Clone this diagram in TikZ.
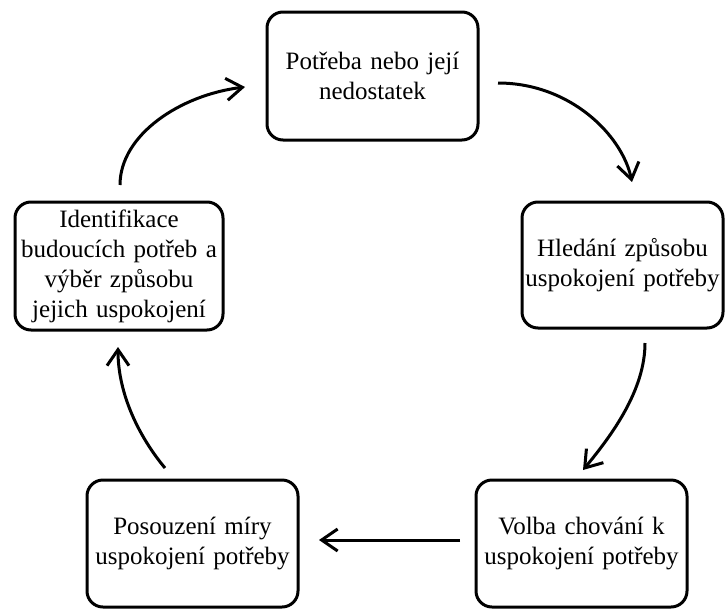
\documentclass[tikz,border=0pt]{standalone}
\usepackage{fontspec}
\setmainfont{Liberation Serif}
\usetikzlibrary{arrows.meta}
\newcommand\cl[1]{\makebox[\linewidth]{#1}\\}
\tikzset{
  stage/.style={draw=black, line width=3pt, rounded corners=16pt, inner sep=0pt,
    text width=#1, align=center, font=\fontsize{25}{30}\selectfont},
  conn/.style={line width=3pt, -{Straight Barb[length=16pt,width=22pt]}}
}
\begin{document}
\begin{tikzpicture}[x=1pt,y=-1pt]
\useasboundingbox (0,0) rectangle (725,608);
\fill[white] (0,0) rectangle (725,608);
\node[stage=211pt, minimum height=128pt] (top) at (372.5,76) {\cl{Potřeba nebo její}\cl{nedostatek}};
\node[stage=201pt, minimum height=126pt] (right) at (622.5,265) {\cl{Hledání způsobu}\cl{uspokojení potřeby}};
\node[stage=211pt, minimum height=127pt] (br) at (581.5,543.5) {\cl{Volba chování k}\cl{uspokojení potřeby}};
\node[stage=211pt, minimum height=127pt] (bl) at (192.5,543.5) {\cl{Posouzení míry}\cl{uspokojení potřeby}};
\node[stage=208pt, minimum height=128pt] (left) at (119,266) {\cl{Identifikace}\cl{budoucích potřeb a}\cl{výběr způsobu}\cl{jejich uspokojení}};
\coordinate (a1) at (498,83);
\coordinate (a2) at (632,182);
\coordinate (b1) at (645,343);
\coordinate (b2) at (583,470);
\coordinate (c1) at (460,540);
\coordinate (c2) at (319,540);
\coordinate (d1) at (165,468);
\coordinate (d2) at (118,347);
\coordinate (e1) at (120,185);
\coordinate (e2) at (245,87);
\draw[conn] (a1) .. controls (570,83) and (622,135) .. (a2);
\draw[conn] (b1) .. controls (645,390) and (612,435) .. (b2);
\draw[conn] (c1) -- (c2);
\draw[conn] (d1) .. controls (140,438) and (118,395) .. (d2);
\draw[conn] (e1) .. controls (120,135) and (180,95) .. (e2);
\end{tikzpicture}
\end{document}
